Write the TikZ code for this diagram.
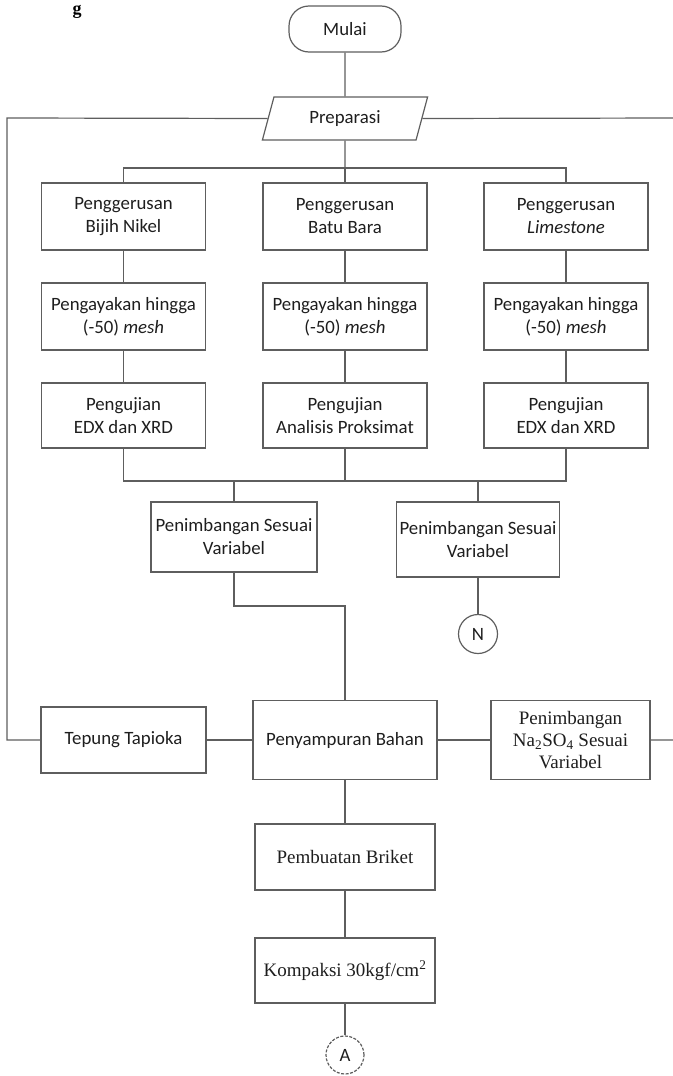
\documentclass[tikz,border=0pt]{standalone}
\usepackage{fontspec}
\setmainfont{Carlito}
\newfontfamily\tnr{Liberation Serif}
\usetikzlibrary{shapes.geometric}
\definecolor{ln}{HTML}{5E5E5E}
\definecolor{tx}{HTML}{1E1E1E}
\tikzset{
  base/.style={draw=ln, line width=1.2pt, text=tx, align=center, inner sep=2pt,
    font=\fontsize{18.8}{23}\selectfont},
  box/.style={base, rectangle, minimum width=#1},
  sbox/.style={base, rectangle, minimum width=#1, font=\tnr\fontsize{19}{22}\selectfont},
  term/.style={base, rectangle, rounded corners=20pt, minimum width=112pt, minimum height=46pt},
  io/.style={base, trapezium, trapezium left angle=73, trapezium right angle=107,
    trapezium stretches=true, minimum width=166pt, minimum height=43pt},
  conn/.style={base, circle, inner sep=0pt, minimum size=#1},
  wire/.style={draw=ln, line width=1.2pt}
}
\begin{document}
\begin{tikzpicture}[x=1pt,y=1pt]
\useasboundingbox (0,0) rectangle (672,-1076);
\node[anchor=base, inner sep=0pt, text=black, font=\tnr\bfseries\fontsize{18}{18}\selectfont] (hd) at (77,-14) {g};
\node[term] (mulai) at (345,-29) {Mulai};
\node[io] (prep) at (345,-118.5) {Preparasi};
% row 1
\node[box=164pt, minimum height=67pt] (b11) at (123.5,-216.5) {Penggerusan\\Bijih Nikel};
\node[box=164pt, minimum height=67pt] (b12) at (345,-216.5) {Penggerusan\\Batu Bara};
\node[box=164pt, minimum height=67pt] (b13) at (566,-216.5) {Penggerusan\\\textit{Limestone}};
% row 2
\node[box=164pt, minimum height=67pt] (b21) at (123.5,-316.5) {Pengayakan hingga\\(-50) \textit{mesh}};
\node[box=164pt, minimum height=67pt] (b22) at (345,-316.5) {Pengayakan hingga\\(-50) \textit{mesh}};
\node[box=164pt, minimum height=67pt] (b23) at (566,-316.5) {Pengayakan hingga\\(-50) \textit{mesh}};
% row 3
\node[box=164pt, minimum height=65pt] (b31) at (123.5,-415.5) {Pengujian\\EDX dan XRD};
\node[box=164pt, minimum height=65pt] (b32) at (345,-415.5) {Pengujian\\Analisis Proksimat};
\node[box=164pt, minimum height=65pt] (b33) at (566,-415.5) {Pengujian\\EDX dan XRD};
% weighing
\node[box=166pt, minimum height=70pt] (p1) at (234,-537) {Penimbangan Sesuai\\Variabel};
\node[box=163pt, minimum height=75pt] (p2) at (478,-539.5) {Penimbangan Sesuai\\Variabel};
\node[conn=39pt] (N) at (478,-634) {N};
% mixing row
\node[box=165pt, minimum height=66pt] (tep) at (123.5,-740) {Tepung Tapioka};
\node[box=184pt, minimum height=79pt] (mix) at (345,-740) {Penyampuran Bahan};
\node[sbox=159pt, minimum height=79pt] (na) at (570.5,-740) {Penimbangan\\Na\textsubscript{2}SO\textsubscript{4} Sesuai\\Variabel};
\node[sbox=180pt, minimum height=66pt] (brk) at (345,-857) {Pembuatan Briket};
\node[sbox=180pt, minimum height=65pt] (kom) at (345,-970.5) {Kompaksi 30kgf/cm\textsuperscript{2}};
\node[conn=38pt, dash pattern=on 3pt off 1.5pt] (A) at (345,-1055) {A};
% coordinates
\coordinate (bus) at (345,-168);
\coordinate (mrg) at (345,-481);
\coordinate (elb) at (234,-606);
\coordinate (L1) at (7,-118);
\coordinate (R1) at (675,-118);
% wires
\draw[wire] (mulai.south) -- (prep.north);
\draw[wire] (prep.south) -- (bus);
\draw[wire] (b11.north) |- (bus) -| (b13.north);
\draw[wire] (bus) -- (b12.north);
\draw[wire] (b11.south) -- (b21.north);
\draw[wire] (b12.south) -- (b22.north);
\draw[wire] (b13.south) -- (b23.north);
\draw[wire] (b21.south) -- (b31.north);
\draw[wire] (b22.south) -- (b32.north);
\draw[wire] (b23.south) -- (b33.north);
\draw[wire] (b31.south) |- (mrg) -| (b33.south);
\draw[wire] (b32.south) -- (mrg);
\draw[wire] (p1.north) -- (p1.north |- mrg);
\draw[wire] (p2.north) -- (p2.north |- mrg);
\draw[wire] (p2.south) -- (N.north);
\draw[wire] (p1.south) -- (elb) -| (mix.north);
\draw[wire] (prep.west) -- (L1) |- (tep.west);
\draw[wire] (prep.east) -- (R1) |- (na.east);
\draw[wire] (tep.east) -- (mix.west);
\draw[wire] (mix.east) -- (na.west);
\draw[wire] (mix.south) -- (brk.north);
\draw[wire] (brk.south) -- (kom.north);
\draw[wire] (kom.south) -- (A.north);
\end{tikzpicture}
\end{document}
